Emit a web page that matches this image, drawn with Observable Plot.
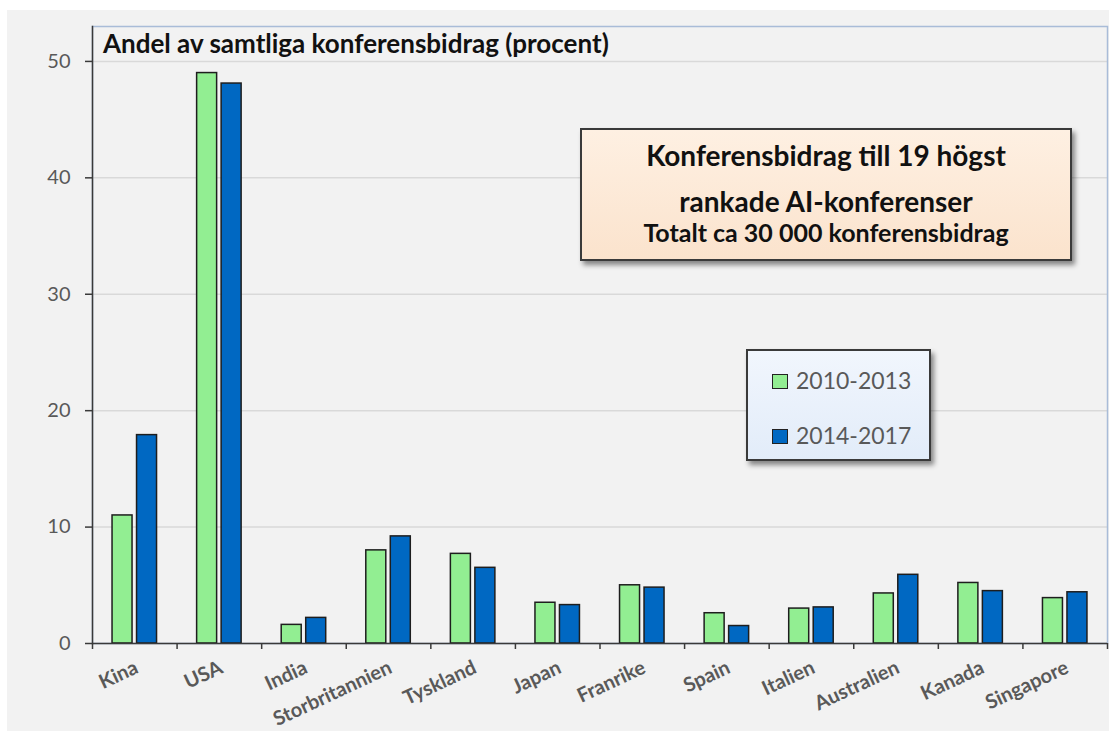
<!DOCTYPE html>
<html>
<head>
<meta charset="utf-8">
<script src="https://cdn.jsdelivr.net/npm/d3@7"></script>
<script src="https://cdn.jsdelivr.net/npm/@observablehq/plot@0.6"></script>
<style>
  html, body { margin: 0; padding: 0; background: #ffffff; }
  #wrap { position: relative; width: 1109px; height: 731px; overflow: hidden; font-family: Lato, "Open Sans", sans-serif; }
  #bg { position: absolute; left: 7px; top: 10px; right: 0; bottom: 0; background: #f2f2f2; }
  #chart { position: absolute; left: 0; top: 0; }
  #title { position: absolute; left: 103px; top: 27px; font-weight: 700; font-size: 26px; line-height: 32px; color: #111; white-space: nowrap; }
  #info { position: absolute; left: 580px; top: 128px; width: 488px; height: 129px; box-sizing: content-box;
          border: 2px solid #3a3a3a; background: linear-gradient(#fef0e2, #fbe3cd);
          box-shadow: 3px 4px 5px rgba(0,0,0,0.45); text-align: center; color: #111; font-weight: 700; }
  #info .l1 { position: absolute; left: 0; right: 0; top: 8px; font-size: 28px; line-height: 34px; }
  #info .l2 { position: absolute; left: 0; right: 0; top: 54px; font-size: 28px; line-height: 34px; }
  #info .l3 { position: absolute; left: 0; right: 0; top: 87px; font-size: 25px; line-height: 30px; }
  #legend { position: absolute; left: 746px; top: 349px; width: 181px; height: 108px;
            border: 2px solid #3a3a3a; background: linear-gradient(#f1f6fd, #e2ecf9);
            box-shadow: 3px 4px 5px rgba(0,0,0,0.45); }
  #legend .item { position: absolute; left: 24px; height: 28px; line-height: 28px; font-size: 23px; color: #595959; white-space: nowrap; }
  #legend .sw { display: inline-block; width: 14px; height: 13px; border: 1px solid #222; vertical-align: middle; margin-right: 8px; position: relative; top: -2px; }
</style>
</head>
<body>
<div id="wrap">
  <div id="bg"></div>
  <div id="chart"></div>
  <div id="title"></div>
  <div id="info"></div>
  <div id="legend"></div>
</div>
<script>
// ---- data ----
const countries = ["Kina", "USA", "India", "Storbritannien", "Tyskland", "Japan", "Franrike", "Spain", "Italien", "Australien", "Kanada", "Singapore"];
const periods = ["2010-2013", "2014-2017"];
const share2010 = [11.0, 49.0, 1.6, 8.0, 7.7, 3.5, 5.0, 2.6, 3.0, 4.3, 5.2, 3.9];
const share2014 = [17.9, 48.1, 2.2, 9.2, 6.5, 3.3, 4.8, 1.5, 3.1, 5.9, 4.5, 4.4];
const yTicks = [0, 10, 20, 30, 40, 50];
const colors = ["#92ee92", "#0068c2"];
const titleText = "Andel av samtliga konferensbidrag (procent)";
const infoLines = ["Konferensbidrag till 19 högst", "rankade AI-konferenser", "Totalt ca 30 000 konferensbidrag"];

// ---- layout ----
const W = 1109, H = 731;
const mL = 92, mR = 2, mT = 26, mB = 88;
const step = (W - mL - mR) / countries.length;
const barW = 20, gap = 4.5;
const outer = (step - 2 * barW - gap) / 2;

const rowsA = countries.map((c, i) => ({country: c, period: periods[0], value: share2010[i]}));
const rowsB = countries.map((c, i) => ({country: c, period: periods[1], value: share2014[i]}));

const axisColor = "#3a3a3a";

const chart = Plot.plot({
  width: W, height: H,
  marginLeft: mL, marginRight: mR, marginTop: mT, marginBottom: mB,
  style: {background: "transparent", overflow: "visible", fontFamily: "Lato, 'Open Sans', sans-serif"},
  x: {domain: countries, padding: 0, round: false, label: null},
  y: {domain: [0, 53], label: null},
  marks: [
    Plot.gridY(yTicks.filter(t => t > 0), {stroke: "#d9d9d9", strokeOpacity: 1, strokeWidth: 1.5}),
    Plot.frame({stroke: "#a9bcd8", strokeWidth: 1.5}),
    Plot.barY(rowsA, {x: "country", y: "value", fill: colors[0], stroke: "#1e1e1e", strokeWidth: 1.5,
      insetLeft: outer, insetRight: outer + barW + gap}),
    Plot.barY(rowsB, {x: "country", y: "value", fill: colors[1], stroke: "#1e1e1e", strokeWidth: 1.5,
      insetLeft: outer + barW + gap, insetRight: outer}),
    Plot.ruleY([0], {stroke: axisColor, strokeWidth: 1.5}),
    Plot.frame({anchor: "left", stroke: axisColor, strokeWidth: 1.5}),
    Plot.ruleX(countries, {x: d => d, dx: -step / 2, insetTop: H - mT - mB, insetBottom: -6, stroke: axisColor, strokeWidth: 1.5}),
    Plot.ruleX(countries.slice(-1), {x: d => d, dx: step / 2, insetTop: H - mT - mB, insetBottom: -6, stroke: axisColor, strokeWidth: 1.5}),
    Plot.axisY({ticks: yTicks, tickSize: 7, tickPadding: 15, fontSize: 20, fill: "#595959", stroke: axisColor, strokeWidth: 1.5}),
    Plot.axisX({tickSize: 0, tickRotate: -25, tickPadding: 23, fontSize: 20, fontWeight: "bold", fill: "#595959", dx: 2})
  ]
});
document.getElementById("chart").appendChild(chart);

document.getElementById("title").textContent = titleText;
const info = document.getElementById("info");
infoLines.forEach((t, i) => {
  const d = document.createElement("div");
  d.className = "l" + (i + 1);
  d.textContent = t;
  info.appendChild(d);
});
const legend = document.getElementById("legend");
periods.forEach((p, i) => {
  const d = document.createElement("div");
  d.className = "item";
  d.style.top = (15 + i * 55) + "px";
  const sw = document.createElement("span");
  sw.className = "sw";
  sw.style.background = colors[i];
  d.appendChild(sw);
  d.appendChild(document.createTextNode(p));
  legend.appendChild(d);
});
</script>
</body>
</html>
